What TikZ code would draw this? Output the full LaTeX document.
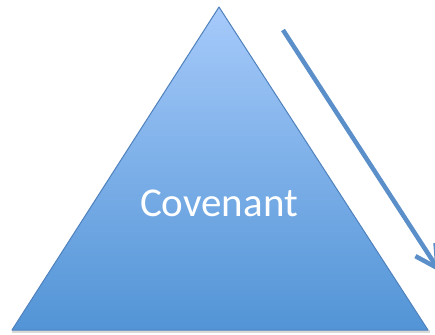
\documentclass[tikz,border=0pt]{standalone}
\usepackage{fontspec}
\setmainfont{Carlito}
\usepackage{xcolor}
\usetikzlibrary{arrows.meta,positioning,calc}
\definecolor{topblue}{HTML}{A6CAFA}
\definecolor{botblue}{HTML}{5294D6}
\definecolor{edgeblue}{HTML}{4F81BD}
\definecolor{arrowblue}{HTML}{5B8FC9}

\begin{document}
\begin{tikzpicture}[x=1pt,y=-1pt]
    \useasboundingbox (0,0) rectangle (435,334);

    % Shadow
    \fill[black!15] (12,330) rectangle (430,333);

    % Triangle
    \coordinate (apex) at (219,7);
    \coordinate (baseL) at (12,330);
    \coordinate (baseR) at (428,330);
    \shade[top color=topblue, bottom color=botblue] (apex) -- (baseR) -- (baseL) -- cycle;
    \draw[edgeblue, line width=1pt, line join=round] (apex) -- (baseR) -- (baseL) -- cycle;
    \node[text=white, font=\fontsize{41}{41}\selectfont] (covenant) at (219,203) {Covenant};

    % Arrow
    \coordinate (start) at (283,30);
    \coordinate (tip) at (440,272);
    \draw[arrowblue, line width=4.5pt, line cap=butt, -{Straight Barb[length=22pt,width=24pt]}] (start) -- (tip);
\end{tikzpicture}
\end{document}
